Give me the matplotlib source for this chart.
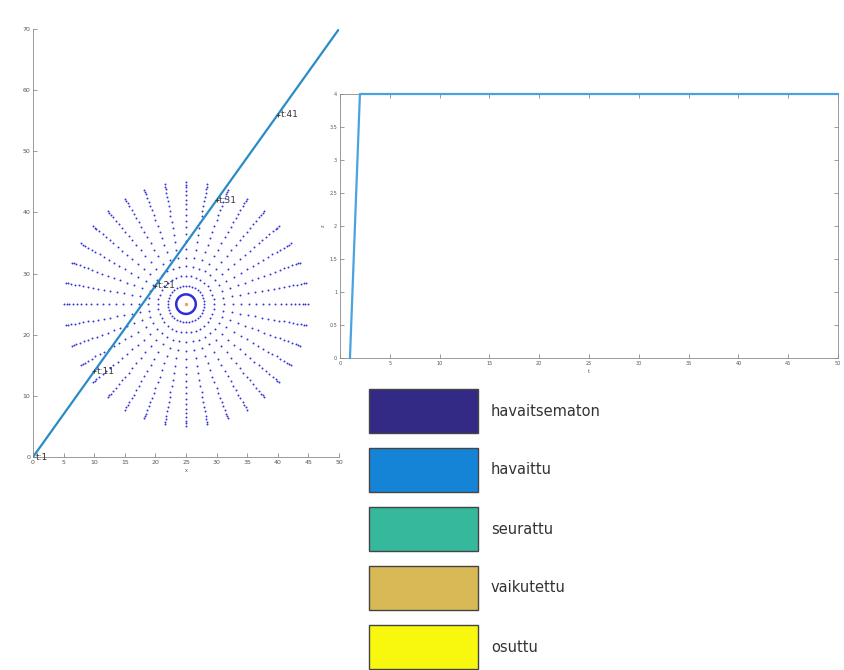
#!/usr/bin/env python3
"""Target track over the polar sensor grid, state index over time, and state colour key."""
import numpy as np
import matplotlib
matplotlib.use("Agg")
import matplotlib.pyplot as plt
from matplotlib.patches import Rectangle, Circle

# track of the target (x, y) and the labelled time steps
TRACK_X = [0, 50]
TRACK_Y = [0, 70]
LABEL_T = [1, 11, 21, 31, 41]
LABEL_X = [0, 10, 20, 30, 40]
LABEL_Y = [0, 14, 28, 42, 56]

# sensor field: rays around the centre
CENTER = (25, 25)
INNER_RING = 1.6
RAY_ANGLES = [0, 10, 20, 30, 40, 50, 60, 70, 80, 90, 100, 110, 120, 130, 140, 150, 160, 170,
              180, 190, 200, 210, 220, 230, 240, 250, 260, 270, 280, 290, 300, 310, 320, 330, 340, 350]
RAY_RADII = [3.0, 4.6, 6.2, 7.6, 9.0, 10.3, 11.5, 12.6, 13.6, 14.6, 15.5, 16.3, 17.1,
             17.8, 18.5, 19.1, 19.5, 19.9]

# state of the target per time step
STEP = list(range(1, 51))
STATE = [0, 4, 4, 4, 4, 4, 4, 4, 4, 4, 4, 4, 4, 4, 4, 4, 4, 4, 4, 4, 4, 4, 4, 4, 4,
         4, 4, 4, 4, 4, 4, 4, 4, 4, 4, 4, 4, 4, 4, 4, 4, 4, 4, 4, 4, 4, 4, 4, 4, 4]

STATE_NAMES = ["havaitsematon", "havaittu", "seurattu", "vaikutettu", "osuttu"]
STATE_COLORS = ["#322a84", "#1584d6", "#36b89c", "#d8b955", "#f8f80e"]

GREY = "#8a8a8a"
TICK_TXT = "#555555"


def style_axes(ax, fs):
    ax.tick_params(direction="in", length=3, width=0.6, colors=GREY,
                   labelsize=fs, labelcolor=TICK_TXT, pad=2)
    for s in ax.spines.values():
        s.set_color(GREY)
        s.set_linewidth(0.6)


fig = plt.figure(figsize=(8.45, 6.7), dpi=100)

# left: track over sensor field
ax = fig.add_axes([33 / 845, 1 - 457 / 670, 306 / 845, 428 / 670])
ang = np.deg2rad(RAY_ANGLES)
A, R = np.meshgrid(ang, RAY_RADII)
ax.plot(CENTER[0] + R * np.cos(A), CENTER[1] + R * np.sin(A), ".", color="#3434dc",
        ms=2.8, mec="none", ls="none")
ax.add_patch(Circle(CENTER, INNER_RING, fill=False, ec="#2f2fd6", lw=1.8))
ax.plot([CENTER[0]], [CENTER[1]], "o", color="#f0a070", ms=2.5, mec="none")
ax.plot(TRACK_X, TRACK_Y, color="#2a8cc6", lw=1.6)
for t, x, y in zip(LABEL_T, LABEL_X, LABEL_Y):
    ax.plot(x, y, "+", color="#333333", ms=3, mew=0.6)
    ax.text(x + 0.4, y, f"t:{t}", fontsize=6.5, color="#333333", va="center", ha="left")
ax.set_xlim(0, 50)
ax.set_ylim(0, 70)
ax.set_xticks(range(0, 51, 5))
ax.set_yticks(range(0, 71, 10))
ax.spines["top"].set_visible(False)
ax.spines["right"].set_visible(False)
style_axes(ax, 4.5)
ax.set_xlabel("x", fontsize=3.5, color=TICK_TXT, labelpad=2)

# right: state vs time step
ax2 = fig.add_axes([340 / 845, 1 - 358 / 670, 498 / 845, 264 / 670])
ax2.plot(STEP, STATE, color="#4aa3df", lw=1.6, clip_on=False, zorder=5)
ax2.set_xlim(0, 50)
ax2.set_ylim(0, 4)
ax2.set_xticks(range(0, 51, 5))
ax2.set_yticks(np.arange(0, 4.01, 0.5))
ax2.set_yticklabels(["0", "0.5", "1", "1.5", "2", "2.5", "3", "3.5", "4"])
ax2.tick_params(top=True, right=True)
style_axes(ax2, 3.5)
ax2.set_ylabel("z", fontsize=3.5, color=TICK_TXT, labelpad=3)
ax2.set_xlabel("t", fontsize=3.5, color=TICK_TXT, labelpad=2)

# colour key for the states
axl = fig.add_axes([0, 0, 1, 1])
axl.set_xlim(0, 845)
axl.set_ylim(670, 0)
axl.axis("off")
for i, (name, c) in enumerate(zip(STATE_NAMES, STATE_COLORS)):
    top = 389 + i * 59
    axl.add_patch(Rectangle((369, top), 109, 44, fc=c, ec="#444444", lw=1.0))
    axl.text(491, top + 22, name, fontsize=10.5, color="#333333", va="center", ha="left")

fig.savefig("out.png", dpi=100)
